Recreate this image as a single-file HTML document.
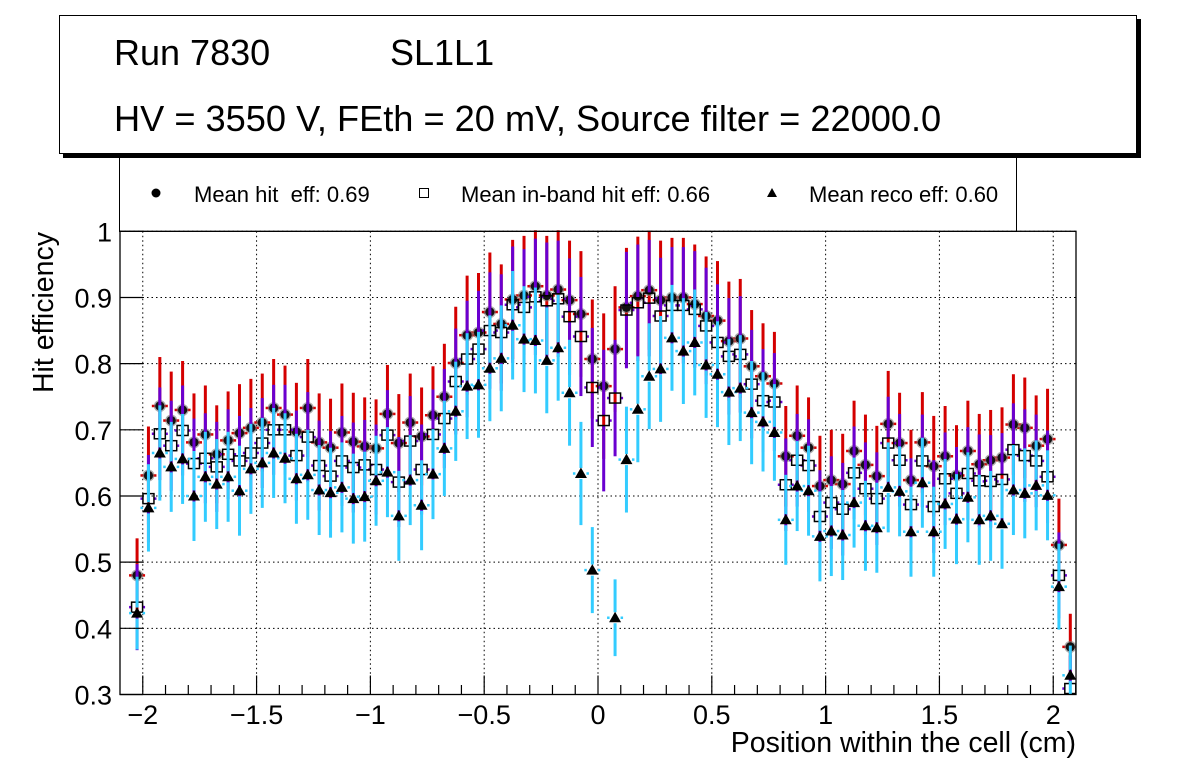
<!DOCTYPE html>
<html><head><meta charset="utf-8"><style>
html,body{margin:0;padding:0;background:#fff;}
svg{display:block;font-family:"Liberation Sans",Arial,sans-serif;}
text{white-space:pre;}
</style></head><body>
<svg id="chart" width="1196" height="772" viewBox="0 0 1196 772" xmlns="http://www.w3.org/2000/svg">
  <rect x="0" y="0" width="1196" height="772" fill="#fff"/>
  <g id="legend">
    <rect x="119.5" y="140" width="897" height="91.5" fill="#fff" stroke="#000" stroke-width="1"/>
    <g>
      <circle cx="156" cy="193" r="4.5" fill="#000"/>
      <text x="194" y="202" font-size="22" xml:space="preserve">Mean hit  eff: 0.69</text>
    </g>
    <g>
      <rect x="419.5" y="188.5" width="9" height="9" fill="#fff" stroke="#000" stroke-width="1"/>
      <text x="461" y="202" font-size="22">Mean in-band hit eff: 0.66</text>
    </g>
    <g>
      <polygon points="772,188 777,197 767,197" fill="#000"/>
      <text x="809" y="202" font-size="22">Mean reco eff: 0.60</text>
    </g>
  </g>
  <g id="title-box">
    <rect x="63" y="19" width="1078" height="139" fill="#000"/>
    <rect x="59.5" y="15.5" width="1077" height="138" fill="#fff" stroke="#000" stroke-width="1"/>
    <text x="114" y="65" font-size="36">Run 7830</text>
    <text x="390" y="65" font-size="36">SL1L1</text>
    <text x="114" y="131" font-size="36.2">HV = 3550 V, FEth = 20 mV, Source filter = 22000.0</text>
  </g>
  <g id="grid"></g>
  <g id="marks"></g>
  <g id="axes"></g>
  <text x="1076" y="752" font-size="28.5" text-anchor="end">Position within the cell (cm)</text>
  <text transform="translate(53,232) rotate(-90)" font-size="28.5" text-anchor="end">Hit efficiency</text>
</svg>
<script>
const hitEff = [0.480,0.631,0.736,0.714,0.730,0.681,0.693,0.663,0.684,0.695,0.703,0.711,0.733,0.723,0.697,0.733,0.681,0.673,0.696,0.682,0.675,
0.672,0.724,0.680,0.711,0.690,0.722,0.750,0.801,0.843,0.847,0.878,0.860,0.897,0.903,0.917,0.903,0.912,0.896,0.875,0.807,0.766,
0.822,0.885,0.902,0.911,0.896,0.900,0.900,0.890,0.872,0.865,0.834,0.838,0.796,0.781,0.770,0.660,0.691,0.673,0.615,0.624,0.618,
0.668,0.647,0.630,0.709,0.680,0.624,0.681,0.645,0.660,0.631,0.668,0.648,0.654,0.658,0.708,0.703,0.676,0.686,0.526,0.372];
const bandEff = [0.432,0.596,0.694,0.676,0.699,0.649,0.657,0.644,0.663,0.653,0.665,0.680,0.700,0.700,0.661,0.689,0.646,0.630,0.653,0.643,0.647,
0.640,0.692,0.621,0.683,0.640,0.693,0.717,0.773,0.807,0.822,0.850,0.847,0.889,0.885,0.901,0.895,0.898,0.871,0.841,0.764,0.714,
0.748,0.881,0.892,0.899,0.872,0.888,0.888,0.882,0.857,0.832,0.811,0.814,0.769,0.744,0.742,0.617,0.654,0.646,0.569,0.590,0.580,
0.635,0.611,0.596,0.680,0.654,0.587,0.653,0.584,0.626,0.604,0.634,0.623,0.622,0.625,0.670,0.661,0.653,0.629,0.480,0.309];
const recoEff = [0.423,0.582,0.665,0.644,0.656,0.600,0.629,0.618,0.629,0.608,0.641,0.650,0.665,0.657,0.626,0.632,0.609,0.605,0.613,0.596,0.599,
0.623,0.636,0.570,0.624,0.586,0.633,0.672,0.728,0.766,0.768,0.793,0.808,0.858,0.837,0.835,0.805,0.824,0.756,0.634,0.488,null,
0.416,0.655,0.731,0.781,0.792,0.839,0.819,0.832,0.798,0.784,0.757,0.763,0.726,0.712,0.696,0.564,0.615,0.608,0.539,0.547,0.541,
0.590,0.555,0.552,0.613,0.607,0.546,0.620,0.546,0.588,0.565,0.598,0.564,0.570,0.558,0.609,0.604,0.616,0.601,0.463,0.329];
const errHit = [0.056,0.074,0.074,0.074,0.074,0.074,0.074,0.074,0.074,0.074,0.074,0.074,0.074,0.074,0.074,0.074,0.074,0.074,0.074,0.074,0.074,
0.074,0.074,0.074,0.074,0.074,0.074,0.080,0.085,0.090,0.090,0.090,0.090,0.090,0.090,0.090,0.090,0.090,0.090,0.095,0.090,0.110,
0.095,0.090,0.090,0.090,0.090,0.090,0.090,0.090,0.090,0.090,0.090,0.090,0.085,0.080,0.078,0.076,0.076,0.076,0.076,0.076,0.076,
0.076,0.076,0.076,0.080,0.076,0.076,0.076,0.076,0.076,0.076,0.076,0.076,0.076,0.076,0.076,0.076,0.076,0.076,0.070,0.050];
const errBand = [0.065,0.066,0.070,0.068,0.068,0.068,0.068,0.068,0.068,0.068,0.068,0.068,0.068,0.068,0.068,0.068,0.068,0.068,0.068,0.068,0.068,
0.068,0.068,0.068,0.068,0.068,0.068,0.075,0.080,0.088,0.088,0.088,0.088,0.088,0.088,0.088,0.088,0.088,0.088,0.090,0.090,0.107,
0.088,0.088,0.088,0.088,0.088,0.088,0.088,0.088,0.088,0.088,0.088,0.088,0.082,0.078,0.074,0.070,0.070,0.070,0.070,0.070,0.070,
0.070,0.070,0.070,0.070,0.070,0.070,0.070,0.070,0.070,0.070,0.070,0.070,0.070,0.070,0.070,0.070,0.070,0.070,0.065,0.050];
const errReco = [0.055,0.066,0.072,0.068,0.068,0.068,0.068,0.068,0.068,0.068,0.068,0.068,0.068,0.068,0.068,0.068,0.068,0.068,0.068,0.068,0.068,
0.068,0.068,0.068,0.068,0.068,0.068,0.072,0.075,0.080,0.080,0.080,0.080,0.082,0.080,0.080,0.080,0.080,0.080,0.078,0.065,0,
0.058,0.080,0.080,0.080,0.080,0.080,0.080,0.080,0.080,0.080,0.080,0.080,0.078,0.075,0.073,0.068,0.068,0.068,0.068,0.068,0.068,
0.068,0.068,0.068,0.068,0.068,0.068,0.068,0.068,0.068,0.068,0.068,0.068,0.068,0.068,0.068,0.068,0.068,0.068,0.065,0.045];
const xTicks = [-2,-1.5,-1,-0.5,0,0.5,1,1.5,2];
const xTickLabels = ["\u22122","\u22121.5","\u22121","\u22120.5","0","0.5","1","1.5","2"];
const yTicks = [0.3,0.4,0.5,0.6,0.7,0.8,0.9,1.0];
const yTickLabels = ["0.3","0.4","0.5","0.6","0.7","0.8","0.9","1"];

const NS = "http://www.w3.org/2000/svg";
const X0 = 120, X1 = 1076, Y0 = 231.3, Y1 = 694.5;
const XMIN = -2.1, XMAX = 2.1, YMIN = 0.3, YMAX = 1.0;
function xs(v){ return X0 + (v - XMIN) / (XMAX - XMIN) * (X1 - X0); }
function ys(v){ return Y1 - (v - YMIN) / (YMAX - YMIN) * (Y1 - Y0); }
function binCenter(i){ return -2.025 + 0.05 * i; }
function mk(tag, attrs, parent){
  const e = document.createElementNS(NS, tag);
  for (const k in attrs) e.setAttribute(k, attrs[k]);
  parent.appendChild(e);
  return e;
}
const grid = document.getElementById('grid');
const marks = document.getElementById('marks');
const axes = document.getElementById('axes');

const defs = mk('defs', {}, document.getElementById('chart'));
const cp = mk('clipPath', {id:'plotclip'}, defs);
mk('rect', {x:X0, y:Y0-1, width:X1-X0, height:Y1-Y0+1}, cp);
marks.setAttribute('clip-path', 'url(#plotclip)');

xTicks.forEach(v => {
  const l = mk('line', {x1:xs(v), x2:xs(v), y1:Y0, y2:Y1, stroke:'#000', 'stroke-width':1, 'stroke-dasharray':'1.5,3'}, grid);
  
  
});
yTicks.forEach(v => {
  const l = mk('line', {x1:X0, x2:X1, y1:ys(v), y2:ys(v), stroke:'#000', 'stroke-width':1, 'stroke-dasharray':'1.5,3'}, grid);
  
  
});

function drawSeries(vals, errs, color, kind){
  const gap = kind === 'hit' ? 4.5 : (kind === 'inband' ? 5.5 : 5.5);
  const g = mk('g', {}, marks);
  
  
  vals.forEach((v, i) => {
    if (v === null) return;
    const cx = xs(binCenter(i)), cy = ys(v);
    const e = errs[i];
    const top = ys(v + e), bot = ys(v - e);
    if (top < cy - gap) {
      const b1 = mk('line', {x1:cx, x2:cx, y1:top, y2:cy - gap, stroke:color, 'stroke-width':3}, g);
      
      
    }
    if (bot > cy + gap) {
      const b2 = mk('line', {x1:cx, x2:cx, y1:cy + gap, y2:bot, stroke:color, 'stroke-width':3}, g);
      
      
    }
    mk('line', {x1:cx-8, x2:cx-gap, y1:cy, y2:cy, stroke:color, 'stroke-width':2.5}, g);
    mk('line', {x1:cx+gap, x2:cx+8, y1:cy, y2:cy, stroke:color, 'stroke-width':2.5}, g);
  });
  vals.forEach((v, i) => {
    if (v === null) return;
    const cx = xs(binCenter(i)), cy = ys(v);
    let m;
    if (kind === 'hit') {
      mk('circle', {cx:cx, cy:cy, r:6, fill:'#777', opacity:0.6}, g);
      m = mk('circle', {cx:cx, cy:cy, r:4.6, fill:'#111'}, g);
    } else if (kind === 'inband') {
      m = mk('rect', {x:cx-5.5, y:cy-5, width:11, height:10, fill:'none', stroke:'#000', 'stroke-width':1.5}, g);
    } else {
      m = mk('polygon', {points:(cx)+','+(cy-6)+' '+(cx+6)+','+(cy+4.5)+' '+(cx-6)+','+(cy+4.5), fill:'#000'}, g);
    }
    
    
  });
}
drawSeries(hitEff, errHit, '#d40000', 'hit');
drawSeries(bandEff, errBand, '#6a00d0', 'inband');
drawSeries(recoEff, errReco, '#33ccff', 'reco');

const frame = mk('rect', {x:X0, y:Y0, width:X1-X0, height:Y1-Y0, fill:'none', stroke:'#000', 'stroke-width':1.3}, axes);



for (let t = -2.0; t <= 2.05; t += 0.1) {
  const v = Math.round(t * 10) / 10;
  const major = Math.abs(v * 2 - Math.round(v * 2)) < 1e-6;
  mk('line', {x1:xs(v), x2:xs(v), y1:Y1, y2:Y1 - (major ? 19 : 9.5), stroke:'#000', 'stroke-width':1.2}, axes);
}
xTicks.forEach((v, i) => {
  const t = mk('text', {x:xs(v), y:724, 'font-size':27, 'text-anchor':'middle'}, axes);
  t.textContent = xTickLabels[i];
  
  
});
yTicks.forEach((v, i) => {
  mk('line', {x1:X0, x2:X0 + 23, y1:ys(v), y2:ys(v), stroke:'#000', 'stroke-width':1.2}, axes);
  const t = mk('text', {x:112, y:ys(v) + 10, 'font-size':27, 'text-anchor':'end'}, axes);
  t.textContent = yTickLabels[i];
  
  
});
</script>
</body></html>
